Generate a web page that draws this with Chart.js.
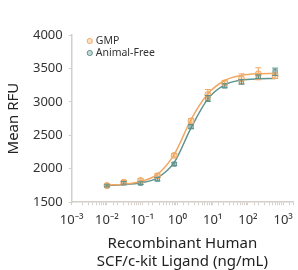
<!DOCTYPE html>
<html>
<head>
<meta charset="utf-8">
<script src="https://cdn.jsdelivr.net/npm/chart.js@4.4.0/dist/chart.umd.min.js"></script>
<style>
html, body { margin: 0; padding: 0; background: #fff; }
</style>
</head>
<body>
<canvas id="grafico" width="298" height="270"></canvas>
<script>
// concentrations (ng/mL), 3-fold dilutions
const concentrations = [0.01, 0.03, 0.09, 0.27, 0.81, 2.43, 7.29, 21.9, 65.6, 197, 590];

// mean RFU
const gmpMean = [1750, 1800, 1825, 1895, 2200, 2715, 3110, 3285, 3345, 3420, 3390];
const gmpError = [20, 25, 25, 30, 25, 35, 75, 35, 75, 90, 40];
const freeMean = [1745, 1790, 1785, 1845, 2070, 2630, 3050, 3240, 3300, 3375, 3450];
const freeError = [15, 20, 20, 25, 20, 30, 45, 30, 35, 25, 55];

// fitted curves, read at the same concentrations
const gmpFit = [1755, 1770, 1810, 1915, 2215, 2735, 3120, 3320, 3395, 3420, 3425];
const freeFit = [1750, 1762, 1790, 1865, 2095, 2610, 3045, 3255, 3325, 3345, 3350];

const xTickLabels = { "-3": "10⁻³", "-2": "10⁻²", "-1": "10⁻¹", "0": "10⁰", "1": "10¹", "2": "10²", "3": "10³" };

const orange = "#f0a862";
const teal = "#5f938e";

function pairs(xs, ys) {
    return xs.map((x, i) => ({ x: x, y: ys[i] }));
}

const errorBars = {
    id: "errorBars",
    afterDatasetsDraw(chart) {
        const ctx = chart.ctx;
        const xs = chart.scales.x;
        const ys = chart.scales.y;
        chart.data.datasets.forEach((ds) => {
            if (!ds.errors) return;
            ctx.save();
            ctx.strokeStyle = ds.borderColor;
            ctx.lineWidth = 1;
            ds.data.forEach((p, i) => {
                const px = xs.getPixelForValue(p.x);
                const top = ys.getPixelForValue(p.y + ds.errors[i]);
                const bot = ys.getPixelForValue(p.y - ds.errors[i]);
                ctx.beginPath();
                ctx.moveTo(px, top); ctx.lineTo(px, bot);
                ctx.moveTo(px - 3, top); ctx.lineTo(px + 3, top);
                ctx.moveTo(px - 3, bot); ctx.lineTo(px + 3, bot);
                ctx.stroke();
            });
            ctx.restore();
        });
    }
};

const insideLegend = {
    id: "insideLegend",
    afterDraw(chart) {
        const ctx = chart.ctx;
        const area = chart.chartArea;
        let y = area.top + 6;
        ctx.save();
        ctx.font = "10.5px 'Noto Sans'";
        ctx.textBaseline = "middle";
        chart.data.datasets.forEach((ds) => {
            if (!ds.legend) return;
            const x = area.left + 18;
            ctx.beginPath();
            ctx.arc(x, y, 2.6, 0, Math.PI * 2);
            ctx.fillStyle = ds.backgroundColor;
            ctx.fill();
            ctx.strokeStyle = ds.borderColor;
            ctx.lineWidth = 1;
            ctx.stroke();
            ctx.fillStyle = "#333";
            ctx.fillText(ds.label, x + 6, y + 0.5);
            y += 12;
        });
        ctx.restore();
    }
};

const ctx = document.getElementById("grafico").getContext("2d");

new Chart(ctx, {
    type: "scatter",
    data: {
        datasets: [
            {
                label: "GMP",
                legend: true,
                data: pairs(concentrations, gmpMean),
                errors: gmpError,
                pointStyle: "circle",
                pointRadius: 3,
                borderColor: orange,
                backgroundColor: "rgba(240,168,98,0.35)",
                borderWidth: 1,
                order: 1
            },
            {
                label: "Animal-Free",
                legend: true,
                data: pairs(concentrations, freeMean),
                errors: freeError,
                pointStyle: "rect",
                pointRadius: 3,
                borderColor: teal,
                backgroundColor: "rgba(95,147,142,0.35)",
                borderWidth: 1,
                order: 1
            },
            {
                label: "GMP fit",
                data: pairs(concentrations, gmpFit),
                showLine: true,
                cubicInterpolationMode: "monotone",
                pointRadius: 0,
                borderColor: orange,
                borderWidth: 1.5,
                order: 2
            },
            {
                label: "Animal-Free fit",
                data: pairs(concentrations, freeFit),
                showLine: true,
                cubicInterpolationMode: "monotone",
                pointRadius: 0,
                borderColor: teal,
                borderWidth: 1.5,
                order: 2
            }
        ]
    },
    options: {
        responsive: false,
        animation: false,
        layout: { padding: { top: 35, right: 1, bottom: -1, left: 5 } },
        plugins: {
            legend: { display: false },
            tooltip: { enabled: false }
        },
        scales: {
            x: {
                type: "logarithmic",
                bounds: "data",
                min: 0.001,
                max: 1900,
                afterFit: (scale) => { scale.paddingRight = 0; },
                border: { color: "#d4cfca", width: 1.5 },
                grid: { drawOnChartArea: false, drawTicks: true, tickLength: 3, color: "#d4cfca" },
                ticks: {
                    autoSkip: false,
                    maxRotation: 0,
                    padding: 11,
                    color: "#333",
                    font: { family: "'Noto Sans'", size: 13, lineHeight: 0.6 },
                    callback: (v) => {
                        const e = Math.log10(v);
                        if (Math.abs(e - Math.round(e)) > 1e-6) return "";
                        return xTickLabels[String(Math.round(e))] || "";
                    }
                },
                title: {
                    display: true,
                    text: ["Recombinant Human", "SCF/c-kit Ligand (ng/mL)"],
                    color: "#222",
                    font: { family: "'Noto Sans'", size: 15, lineHeight: 1.2 },
                    padding: { top: 0, bottom: 0 }
                }
            },
            y: {
                min: 1500,
                max: 4000,
                border: { color: "#d4cfca", width: 1.5 },
                grid: { drawOnChartArea: false, drawTicks: true, tickLength: 3, color: "#d4cfca" },
                ticks: {
                    stepSize: 500,
                    padding: 6,
                    color: "#333",
                    font: { family: "'Noto Sans'", size: 13 },
                    callback: (v) => String(v)
                },
                title: {
                    display: true,
                    text: "Mean RFU",
                    color: "#222",
                    font: { family: "'Noto Sans'", size: 15, lineHeight: 1.2 },
                    padding: { top: 0, bottom: 4 }
                }
            }
        }
    },
    plugins: [errorBars, insideLegend]
});
</script>
</body>
</html>
